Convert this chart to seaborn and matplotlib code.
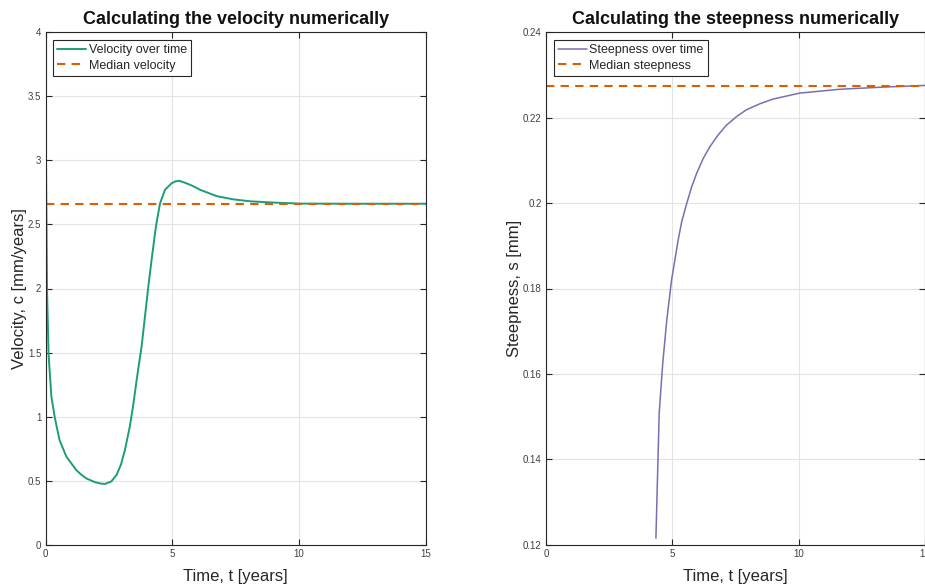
import numpy as np
import pandas as pd
import matplotlib
matplotlib.use("Agg")
import matplotlib.pyplot as plt
import seaborn as sns

# ---- data ----
vel_time = [0.0, 0.02, 0.06, 0.12, 0.23, 0.36, 0.55, 0.82, 1.21, 1.4, 1.6, 1.95, 2.15,
            2.34, 2.59, 2.80, 2.98, 3.13, 3.32, 3.45, 3.61, 3.79, 3.92, 4.05, 4.18,
            4.35, 4.51, 4.71, 4.97, 5.12, 5.27, 5.56, 5.8, 6.09, 6.75, 7.41, 8.07,
            8.99, 10.04, 12.0, 15.0]
vel_value = [4.0, 3.0, 1.99, 1.49, 1.16, 1.0, 0.82, 0.69, 0.585, 0.55, 0.52, 0.49,
             0.48, 0.476, 0.495, 0.546, 0.63, 0.74, 0.92, 1.08, 1.31, 1.55, 1.78, 2.01,
             2.22, 2.48, 2.66, 2.77, 2.82, 2.835, 2.84, 2.82, 2.80, 2.77, 2.72, 2.695,
             2.68, 2.67, 2.662, 2.661, 2.661]
vel_median = 2.661

steep_time = [4.35, 4.41, 4.48, 4.62, 4.78, 4.97, 5.23, 5.37, 5.57, 5.76, 5.96, 6.22,
              6.49, 6.81, 7.14, 7.54, 7.93, 8.46, 8.98, 10.03, 11.62, 13.3, 15.0]
steep_value = [0.1216, 0.1352, 0.1508, 0.1625, 0.1726, 0.1820, 0.1913, 0.1956, 0.1999,
               0.2037, 0.2069, 0.2104, 0.2132, 0.2159, 0.2182, 0.2202, 0.2218, 0.2232,
               0.2243, 0.2257, 0.2266, 0.2271, 0.2275]
steep_median = 0.2274

vel_ticks_x = [0, 5, 10, 15]
vel_ticks_y = [0, 0.5, 1, 1.5, 2, 2.5, 3, 3.5, 4]
steep_ticks_y = [0.12, 0.14, 0.16, 0.18, 0.2, 0.22, 0.24]

sns.set_theme(style="white")
plt.rcParams["font.family"] = ["Liberation Sans", "DejaVu Sans"]

pal = sns.color_palette("Dark2")
green, orange, purple = pal[0], pal[1], pal[2]

fig = plt.figure(figsize=(9.25, 5.84), dpi=100)
ax1 = fig.add_axes([45.5 / 925, 1 - 545 / 584, 380.5 / 925, 513 / 584])
ax2 = fig.add_axes([546 / 925, 1 - 545 / 584, 379 / 925, 513 / 584])

df_v = pd.DataFrame({"t": vel_time, "v": vel_value})
df_s = pd.DataFrame({"t": steep_time, "s": steep_value})

sns.lineplot(data=df_v, x="t", y="v", ax=ax1, color=green, lw=1.4,
             label="Velocity over time", estimator=None, sort=False)
ax1.axhline(vel_median, color=orange, ls=(0, (4, 3)), lw=1.5, label="Median velocity")

sns.lineplot(data=df_s, x="t", y="s", ax=ax2, color=purple, lw=1.1,
             label="Steepness over time", estimator=None, sort=False)
ax2.axhline(steep_median, color=orange, ls=(0, (4, 3)), lw=1.5, label="Median steepness")


def style(ax, yticks, ylim, ylabel, title):
    ax.set_xlim(0, 15)
    ax.set_ylim(*ylim)
    ax.set_xticks(vel_ticks_x)
    ax.set_yticks(yticks)
    ax.set_yticklabels([f"{v:g}" for v in yticks])
    ax.grid(True, color="#e3e3e3", lw=0.8)
    ax.set_axisbelow(True)
    ax.tick_params(direction="in", length=4, width=0.8, colors="#262626",
                   labelsize=7, labelcolor="#404040", top=True, right=True,
                   bottom=True, left=True, pad=3)
    for s in ax.spines.values():
        s.set_color("#262626")
        s.set_linewidth(0.8)
        s.set_visible(True)
    ax.set_xlabel("Time, t [years]", fontsize=12, color="#262626", labelpad=7)
    ax.set_ylabel(ylabel, fontsize=12, color="#262626", labelpad=0.5)
    ax.set_title(title, fontsize=13, fontweight="bold", color="#111111", pad=6)
    leg = ax.legend(loc="upper left", fontsize=9, frameon=True, fancybox=False,
                    edgecolor="#262626", framealpha=1, borderpad=0.35,
                    handlelength=2.3, handletextpad=0.2, labelspacing=0.3,
                    borderaxespad=0.6)
    leg.get_frame().set_linewidth(0.8)


style(ax1, vel_ticks_y, (0, 4), "Velocity, c [mm/years]",
      "Calculating the velocity numerically")
style(ax2, steep_ticks_y, (0.12, 0.24), "Steepness, s [mm]",
      "Calculating the steepness numerically")

fig.savefig("out.png", dpi=100)
